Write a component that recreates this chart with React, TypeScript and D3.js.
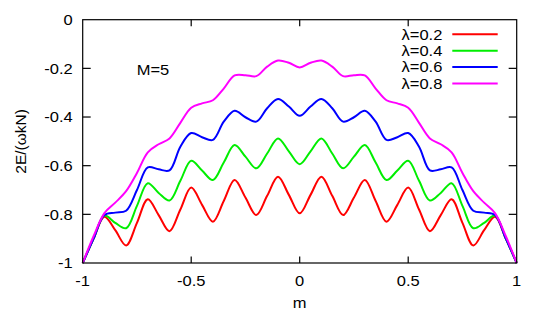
import React from 'react';
import * as d3 from 'd3';

const mGrid = [-1, -0.95, -0.9, -0.85, -0.8, -0.75, -0.7, -0.65, -0.6, -0.55, -0.5, -0.45, -0.4, -0.35, -0.3, -0.25, -0.2, -0.15, -0.1, -0.05, 0,
  0.05, 0.1, 0.15, 0.2, 0.25, 0.3, 0.35, 0.4, 0.45, 0.5, 0.55, 0.6, 0.65, 0.7, 0.75, 0.8, 0.85, 0.9, 0.95, 1];

const lambda02 = [-1, -0.9, -0.81, -0.865, -0.928, -0.835, -0.738, -0.803, -0.869, -0.78, -0.69, -0.761, -0.83, -0.745, -0.659, -0.731, -0.803, -0.724, -0.645, -0.72, -0.796,
  -0.72, -0.645, -0.724, -0.803, -0.731, -0.659, -0.745, -0.83, -0.761, -0.69, -0.78, -0.869, -0.803, -0.738, -0.835, -0.928, -0.865, -0.81, -0.9, -1];
const lambda04 = [-1, -0.9, -0.805, -0.835, -0.857, -0.765, -0.672, -0.712, -0.743, -0.662, -0.58, -0.62, -0.659, -0.587, -0.515, -0.563, -0.611, -0.55, -0.488, -0.541, -0.594,
  -0.541, -0.488, -0.55, -0.611, -0.563, -0.515, -0.587, -0.659, -0.62, -0.58, -0.662, -0.743, -0.712, -0.672, -0.765, -0.857, -0.835, -0.805, -0.9, -1];
const lambda06 = [-1, -0.9, -0.803, -0.793, -0.785, -0.7, -0.607, -0.615, -0.619, -0.522, -0.466, -0.483, -0.494, -0.419, -0.374, -0.401, -0.419, -0.364, -0.326, -0.357, -0.395,
  -0.357, -0.326, -0.364, -0.419, -0.401, -0.374, -0.419, -0.494, -0.483, -0.466, -0.522, -0.619, -0.615, -0.607, -0.7, -0.785, -0.793, -0.803, -0.9, -1];
const lambda08 = [-1, -0.89, -0.795, -0.752, -0.705, -0.63, -0.545, -0.512, -0.488, -0.424, -0.362, -0.344, -0.331, -0.283, -0.229, -0.228, -0.232, -0.193, -0.168, -0.177, -0.196,
  -0.177, -0.168, -0.193, -0.232, -0.228, -0.229, -0.283, -0.331, -0.344, -0.362, -0.424, -0.488, -0.512, -0.545, -0.63, -0.705, -0.752, -0.795, -0.89, -1];

const seriesLabels = ['λ=0.2', 'λ=0.4', 'λ=0.6', 'λ=0.8'];
const seriesValues = [lambda02, lambda04, lambda06, lambda08];
const seriesColors = ['#ff0000', '#00ee00', '#0000ff', '#ff00ff'];

const xTicks = [-1, -0.5, 0, 0.5, 1];
const yTicks = [0, -0.2, -0.4, -0.6, -0.8, -1];

const width = 545;
const height = 312;
const left = 82.7, right = 516.7, top = 19.7, bottom = 263;
const SX = 1.1; // text in the picture is a bit wider than it is tall
const font = '"Liberation Sans", Arial, sans-serif';

const T = ({ x, y, anchor = 'start', size = 15, children }) => (
  <text
    transform={`translate(${x},${y}) scale(${SX},1)`}
    textAnchor={anchor}
    fontSize={size}
    fontFamily={font}
    fill="#000"
  >
    {children}
  </text>
);

const App = () => {
  const x = d3.scaleLinear().domain([-1, 1]).range([left, right]);
  const y = d3.scaleLinear().domain([-1, 0]).range([bottom, top]);

  const line = d3.line<number>()
    .x((d, i) => x(mGrid[i]))
    .y(d => y(d))
    .curve(d3.curveCatmullRom.alpha(0.5));

  const fmt = (v: number) => (v === 0 ? '0' : String(v));

  return (
    <svg width={width} height={height} style={{ position: 'absolute', left: 0, top: 0, background: '#fff' }}>
      <rect x={0} y={0} width={width} height={height} fill="#fff" />

      {/* curves */}
      {seriesValues.map((vals, i) => (
        <path key={i} d={line(vals) || ''} fill="none" stroke={seriesColors[i]} strokeWidth={2} strokeLinejoin="round" />
      ))}

      {/* frame */}
      <rect x={left} y={top} width={right - left} height={bottom - top} fill="none" stroke="#000" strokeWidth={1.2} />

      {/* ticks */}
      {xTicks.slice(1, -1).map(t => (
        <g key={'xt' + t}>
          <line x1={x(t)} x2={x(t)} y1={bottom} y2={bottom - 6.5} stroke="#000" strokeWidth={1.2} />
          <line x1={x(t)} x2={x(t)} y1={top} y2={top + 6.5} stroke="#000" strokeWidth={1.2} />
        </g>
      ))}
      {yTicks.slice(1, -1).map(t => (
        <g key={'yt' + t}>
          <line x1={left} x2={left + 8} y1={y(t)} y2={y(t)} stroke="#000" strokeWidth={1.2} />
          <line x1={right} x2={right - 8} y1={y(t)} y2={y(t)} stroke="#000" strokeWidth={1.2} />
        </g>
      ))}

      {/* tick labels */}
      {xTicks.map(t => (
        <T key={'xl' + t} x={x(t)} y={285.8} anchor="middle">{fmt(t)}</T>
      ))}
      {yTicks.map(t => (
        <T key={'yl' + t} x={72.7} y={y(t) + 5.3} anchor="end">{fmt(t)}</T>
      ))}

      {/* axis titles */}
      <T x={x(0)} y={307.5} anchor="middle">m</T>
      <text
        transform={`translate(26,${(top + bottom) / 2}) rotate(-90)`}
        textAnchor="middle"
        fontSize={15.5}
        fontFamily={font}
      >
        2E/(ωkN)
      </text>

      <T x={136.7} y={75}>M=5</T>

      {/* legend */}
      {seriesLabels.map((lab, i) => (
        <g key={lab}>
          <T x={442.3} y={39.6 + i * 16.4} anchor="end">{lab}</T>
          <line x1={452.3} x2={497.7} y1={34.3 + i * 16.4} y2={34.3 + i * 16.4} stroke={seriesColors[i]} strokeWidth={2} />
        </g>
      ))}
    </svg>
  );
};

export default App;
